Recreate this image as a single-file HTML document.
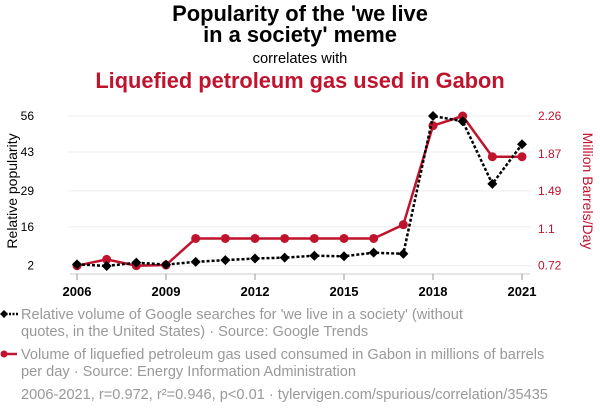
<!DOCTYPE html>
<html><head><meta charset="utf-8"><style>
body{margin:0;background:#fff;font-family:"Liberation Sans",sans-serif}
#wrap{position:relative;width:600px;height:414px;overflow:hidden}
</style></head><body>
<div id="wrap">
<svg id="svg" width="600" height="414" xmlns="http://www.w3.org/2000/svg">
<text x="300" y="21" text-anchor="middle" font-size="21.9" font-weight="bold" fill="#000">Popularity of the 'we live</text>
<text x="300" y="42" text-anchor="middle" font-size="21.9" font-weight="bold" fill="#000">in a society' meme</text>
<text x="300" y="63" text-anchor="middle" font-size="14.7" fill="#000">correlates with</text>
<text x="300" y="88" text-anchor="middle" font-size="21.8" font-weight="bold" fill="#c0142e">Liquefied petroleum gas used in Gabon</text>
<text transform="translate(17,191) rotate(-90)" text-anchor="middle" font-size="14" fill="#000">Relative popularity</text>
<text transform="translate(583,191) rotate(90)" text-anchor="middle" font-size="14" fill="#c0142e">Million Barrels/Day</text>
<g id="grid"></g><g id="axes"></g><g id="marks"></g>
<g>
<line x1="2" y1="314" x2="18" y2="314" stroke="#000" stroke-width="2.5" stroke-dasharray="2,1.5"/>
<path d="M4 310 L8 314 L4 318 L0 314Z" fill="#000"/>
<text x="21" y="319" font-size="14.6" fill="#999">Relative volume of Google searches for 'we live in a society' (without</text>
<text x="21" y="336" font-size="14.6" fill="#999">quotes, in the United States) · Source: Google Trends</text>
<line x1="2" y1="354" x2="17" y2="354" stroke="#c0142e" stroke-width="2.5"/>
<circle cx="4" cy="354" r="3.5" fill="#c0142e"/>
<text x="21" y="359" font-size="14.6" fill="#999">Volume of liquefied petroleum gas used consumed in Gabon in millions of barrels</text>
<text x="21" y="376" font-size="14.6" fill="#999">per day · Source: Energy Information Administration</text>
<text x="21" y="399" font-size="14.6" fill="#999">2006-2021, r=0.972, r²=0.946, p&lt;0.01 · tylervigen.com/spurious/correlation/35435</text>
</g>
</svg></div>
<script>
const years=[2006,2007,2008,2009,2010,2011,2012,2013,2014,2015,2016,2017,2018,2019,2020,2021];
const searchVals=[2.5,1.9,3.1,2.4,3.4,4.0,4.6,4.9,5.6,5.4,6.7,6.3,56,54.1,31.5,45.8];
const lpgVals=[0.72,0.785,0.72,0.727,1.0,1.0,1.0,1.0,1.0,1.0,1.0,1.142,2.16,2.26,1.841,1.841];
const leftTicks=[2,16,29,43,56];
const rightTicks=[0.72,1.1,1.49,1.87,2.26];
const xTicks=[2006,2009,2012,2015,2018,2021];
const NS="http://www.w3.org/2000/svg";
const X=v=>77+(v-2006)*(522-77)/15;
const YL=v=>265.7-(v-2)*(265.7-116)/54;
const YR=v=>265.7-(v-0.72)*(265.7-116)/1.54;
function mk(t,a,p){const e=document.createElementNS(NS,t);for(const k in a)e.setAttribute(k,a[k]);document.getElementById(p).appendChild(e);return e;}
leftTicks.forEach((t,i)=>{
 const y=YL(t);
 const g=mk('line',{x1:68,x2:532,y1:y,y2:y,stroke:'#eee','stroke-width':1},'grid');
 
 
 const l=mk('text',{x:34,y:y+4,'font-size':12,'text-anchor':'end',fill:'#000'},'axes');l.textContent=t;
 
 
});
rightTicks.forEach(t=>{
 const y=YR(t);
 const l=mk('text',{x:538,y:y+4,'font-size':12,fill:'#c0142e'},'axes');l.textContent=t;
 
 
});
mk('line',{x1:70,x2:530,y1:274,y2:274,stroke:'#ccc'},'axes');
xTicks.forEach(t=>{
 const x=X(t);
 mk('line',{x1:x,x2:x,y1:274,y2:280,stroke:'#999'},'axes');
 const l=mk('text',{x:x,y:296,'font-size':13,'font-weight':'bold','text-anchor':'middle',fill:'#000'},'axes');l.textContent=t;
 
 
});
const rp=mk('polyline',{points:years.map((y,i)=>X(y)+','+YR(lpgVals[i])).join(' '),fill:'none',stroke:'#c0142e','stroke-width':2.5},'marks');


years.forEach((y,i)=>{
 const c=mk('circle',{cx:X(y),cy:YR(lpgVals[i]),r:4.5,fill:'#c0142e'},'marks');
 
 
});
const bp=mk('polyline',{points:years.map((y,i)=>X(y)+','+YL(searchVals[i])).join(' '),fill:'none',stroke:'#000','stroke-width':2.5,'stroke-dasharray':'3,2'},'marks');


years.forEach((y,i)=>{
 const x=X(y),v=YL(searchVals[i]);
 const d=mk('path',{d:`M${x} ${v-5} L${x+5} ${v} L${x} ${v+5} L${x-5} ${v}Z`,fill:'#000'},'marks');
 
 
});
</script>
</body></html>
